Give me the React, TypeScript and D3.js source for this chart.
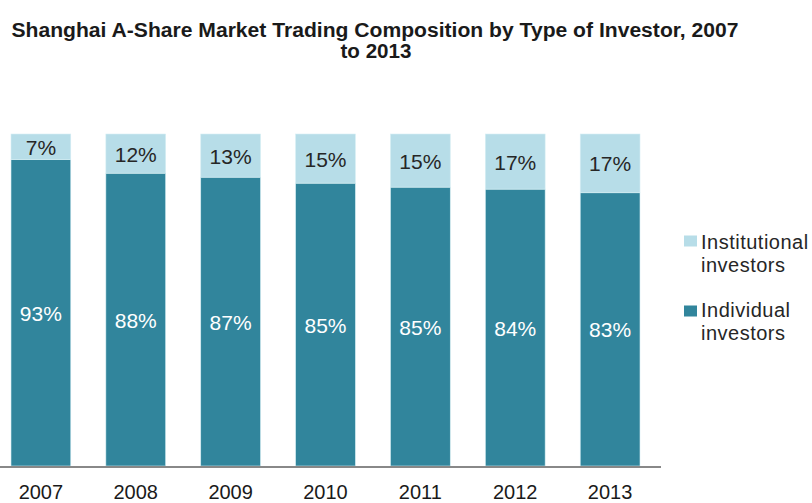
import React from "react";
import * as d3 from "d3";

const years = ["2007", "2008", "2009", "2010", "2011", "2012", "2013"];
// segment shares
const individualShare = [92.3, 88.2, 87.0, 85.2, 84.0, 83.4, 82.3];
const institutionalShare = [7.7, 11.8, 13.0, 14.8, 16.0, 16.6, 17.7];
// printed labels
const individualLabels = ["93%", "88%", "87%", "85%", "85%", "84%", "83%"];
const institutionalLabels = ["7%", "12%", "13%", "15%", "15%", "17%", "17%"];

const colInst = "#B7DDE8";
const colInd = "#31859C";

export default function App() {
  const W = 812, H = 503;
  const x = d3.scaleBand<string>().domain(years).range([11, 640]).paddingInner(0.37).paddingOuter(0);
  const y = d3.scaleLinear().domain([0, 100]).range([466, 134]);
  const font = "'Liberation Sans', Arial, sans-serif";

  return (
    <svg width={W} height={H} style={{ position: "absolute", left: 0, top: 0 }} fontFamily={font}>
      <rect width={W} height={H} fill="#fff" />
      <text x={375} y={37} textAnchor="middle" fontSize={20} fontWeight="bold" fill="#1a1a1a"
        textLength={727} lengthAdjust="spacingAndGlyphs">
        Shanghai A-Share Market Trading Composition by Type of Investor, 2007
      </text>
      <text x={376} y={58} textAnchor="middle" fontSize={20} fontWeight="bold" fill="#1a1a1a"
        textLength={71} lengthAdjust="spacingAndGlyphs">
        to 2013
      </text>
      {years.map((yr, i) => {
        const x0 = x(yr)!;
        const bw = x.bandwidth();
        const ind = individualShare[i];
        const inst = institutionalShare[i];
        const yIndTop = y(ind);
        const yInstTop = y(ind + inst);
        return (
          <g key={yr}>
            <rect x={x0} y={yIndTop} width={bw} height={y(0) - yIndTop} fill={colInd} stroke="#d6eef3" strokeWidth={0.6} />
            <rect x={x0} y={yInstTop} width={bw} height={yIndTop - yInstTop} fill={colInst} stroke="#d6eef3" strokeWidth={0.6} />
            <text x={x0 + bw / 2} y={(yIndTop + y(0)) / 2 + 8} textAnchor="middle" fontSize={21} fill="#fff">
              {individualLabels[i]}
            </text>
            <text x={x0 + bw / 2} y={(yInstTop + yIndTop) / 2 + 8} textAnchor="middle" fontSize={21} fill="#262626">
              {institutionalLabels[i]}
            </text>
            <text x={x0 + bw / 2} y={499} textAnchor="middle" fontSize={20} fill="#1a1a1a">
              {yr}
            </text>
          </g>
        );
      })}
      <line x1={0} x2={661} y1={467} y2={467} stroke="#888" strokeWidth={2} />
      <g>
        <rect x={684} y={235.5} width={13} height={11} fill={colInst} />
        <text x={701} y={249} fontSize={20} letterSpacing={0.5} fill="#262626">Institutional</text>
        <text x={701} y={272} fontSize={20} letterSpacing={0.5} fill="#262626">investors</text>
        <rect x={684} y={305.5} width={13} height={11} fill={colInd} />
        <text x={701} y={317} fontSize={20} letterSpacing={0.5} fill="#262626">Individual</text>
        <text x={701} y={340} fontSize={20} letterSpacing={0.5} fill="#262626">investors</text>
      </g>
    </svg>
  );
}
